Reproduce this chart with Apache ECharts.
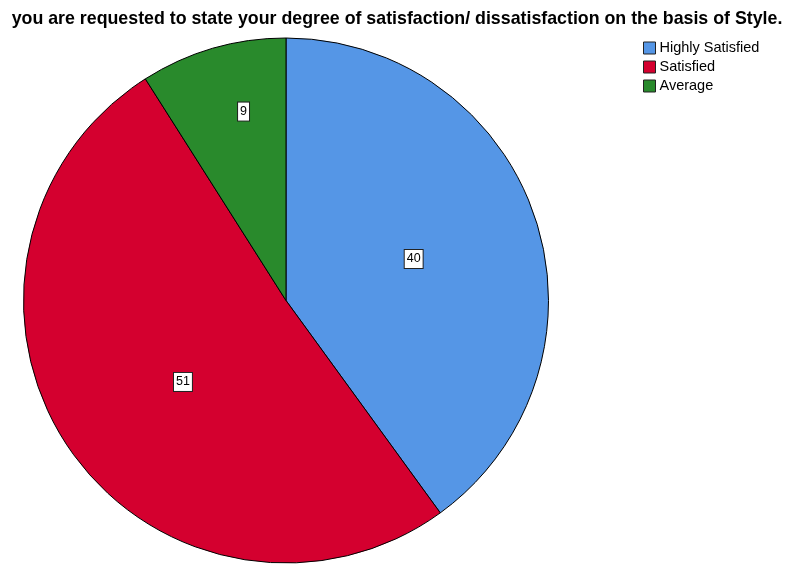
<!DOCTYPE html>
<html><head><meta charset="utf-8">
<script src="https://cdn.jsdelivr.net/npm/echarts@6/dist/echarts.min.js"></script>
<style>html,body{margin:0;padding:0;background:#fff}#c{width:792px;height:568px}</style>
</head><body><div id="c"></div>
<script>
const categories = ['Highly Satisfied', 'Satisfied', 'Average'];
const values = [40, 51, 9];
const colors = ['#5596E6', '#D4002F', '#298A2C'];
const titleText = 'you are requested to state your degree of satisfaction/ dissatisfaction on the basis of Style.';

const chart = echarts.init(document.getElementById('c'));
chart.setOption({
  animation: false,
  title: {
    text: titleText, left: 397, textAlign: 'center', top: 10, padding: 0,
    textStyle: { fontFamily: 'Liberation Sans, Arial', fontWeight: 'bold', fontSize: 17.8, color: '#000' }
  },
  legend: {
    orient: 'vertical', left: 643, top: 40, padding: 0,
    itemWidth: 12, itemHeight: 12, itemGap: 3,
    icon: 'rect',
    textStyle: { fontFamily: 'Liberation Sans, Arial', fontSize: 14.5, color: '#000', padding: [0,0,0,-1], lineHeight: 16 },
    itemStyle: { borderColor: '#222', borderWidth: 1 },
    data: categories
  },
  series: [{
    type: 'pie',
    center: [286, 300.5],
    radius: [0, 262.5],
    startAngle: 90,
    clockwise: true,
    avoidLabelOverlap: false,
    data: categories.map((c, i) => ({ name: c, value: values[i], itemStyle: { color: colors[i] } })),
    itemStyle: { borderColor: '#000', borderWidth: 1 },
    label: {
      show: true, position: 'inside', formatter: '{c}',
      fontFamily: 'Liberation Sans, Arial', fontSize: 12.5, color: '#000',
      backgroundColor: '#fff', borderColor: '#222', borderWidth: 1,
      padding: [3, 2, 2, 2]
    },
    labelLayout: function (p) {
      if (p.dataIndex === 2) return { dx: -5, dy: -60 };
      if (p.dataIndex === 1) return { dx: 8, dy: 6 };
      if (p.dataIndex === 0) return { dx: 0, dy: 0 };
      return {};
    },
    emphasis: { disabled: true }
  }]
});
</script></body></html>
